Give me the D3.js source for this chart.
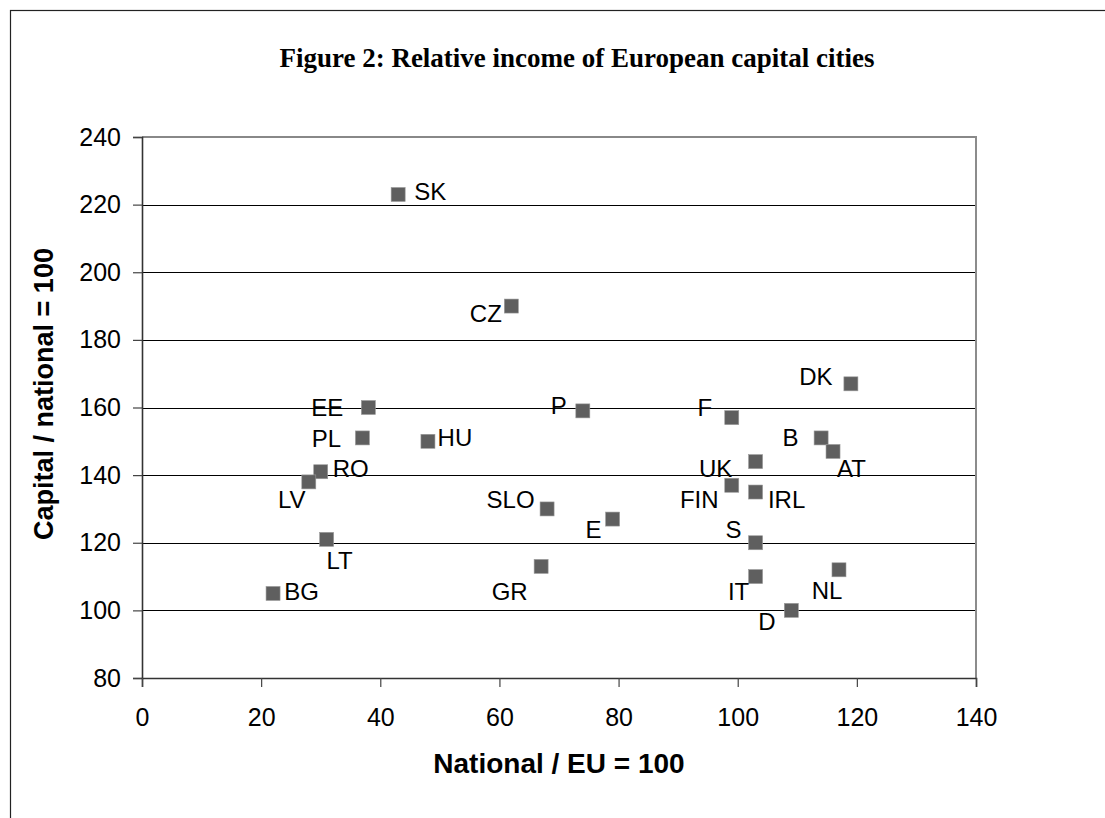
<!DOCTYPE html>
<html>
<head>
<meta charset="utf-8">
<script src="https://cdn.jsdelivr.net/npm/d3@7"></script>
<style>
  body { margin: 0; background: #fff; }
  svg { display: block; }
</style>
</head>
<body>
<script>
// country codes and their values
const codes = ["SK", "CZ", "EE", "PL", "HU", "RO", "LV", "LT", "BG", "SLO", "GR", "P",
               "E", "F", "DK", "B", "AT", "UK", "FIN", "IRL", "S", "IT", "NL", "D"];
const nationalEU = [43, 62, 38, 37, 48, 30, 28, 31, 22, 68, 67, 74,
                    79, 99, 119, 114, 116, 103, 99, 103, 103, 103, 117, 109];
const capitalNational = [223, 190, 160, 151, 150, 141, 138, 121, 105, 130, 113, 159,
                         127, 157, 167, 151, 147, 144, 137, 135, 120, 110, 112, 100];
const xTicks = [0, 20, 40, 60, 80, 100, 120, 140];
const yTicks = [80, 100, 120, 140, 160, 180, 200, 220, 240];

// where each label sits relative to its marker (px, label centre)
const labelOffset = {
  SK: [32, -3], CZ: [-25.5, 7.5], EE: [-41, 0], PL: [-36, 0], HU: [27, -4],
  RO: [30, -3], LV: [-17, 17.5], LT: [13, 21], BG: [28.5, -2.5], SLO: [-36.5, -9.5],
  GR: [-31.5, 24.5], P: [-24, -5], E: [-19, 10], F: [-27, -10.5], DK: [-35, -7],
  B: [-30.5, -1], AT: [18.5, 16.5], UK: [-40, 6.5], FIN: [-32.5, 14], IRL: [31, 7],
  S: [-22, -13], IT: [-17, 14.5], NL: [-12, 21], D: [-24.5, 11]
};

const W = 1105, H = 818;
const plot = { left: 142, right: 976, top: 137, bottom: 678 };
const sans = "'Liberation Sans', Arial, sans-serif";
const serif = "'Liberation Serif', 'Times New Roman', serif";

const svg = d3.select("body").append("svg").attr("width", W).attr("height", H);

// outer frame, runs off the right and bottom of the picture
svg.append("rect")
  .attr("x", 10.5).attr("y", 10.5)
  .attr("width", 1200).attr("height", 1000)
  .attr("fill", "none").attr("stroke", "#222").attr("stroke-width", 1.2);

const x = d3.scaleLinear().domain([0, 140]).range([plot.left, plot.right]);
const y = d3.scaleLinear().domain([80, 240]).range([plot.bottom, plot.top]);

// title
svg.append("text")
  .attr("x", 577).attr("y", 67)
  .attr("text-anchor", "middle")
  .style("font-family", serif).style("font-weight", "bold").style("font-size", "27px")
  .text("Figure 2: Relative income of European capital cities");

// gridlines
svg.append("g")
  .selectAll("line")
  .data(yTicks.filter(t => t > 80 && t < 240))
  .join("line")
  .attr("x1", plot.left).attr("x2", plot.right)
  .attr("y1", d => Math.round(y(d)) + 0.5).attr("y2", d => Math.round(y(d)) + 0.5)
  .attr("stroke", "#000").attr("stroke-width", 1);

// top and right border of plot area
svg.append("line")
  .attr("x1", plot.left).attr("x2", plot.right)
  .attr("y1", plot.top).attr("y2", plot.top)
  .attr("stroke", "#888").attr("stroke-width", 2);
svg.append("line")
  .attr("x1", plot.right).attr("x2", plot.right)
  .attr("y1", plot.top - 1).attr("y2", plot.bottom)
  .attr("stroke", "#8c8c8c").attr("stroke-width", 2);

// axes
const yAxis = svg.append("g")
  .attr("transform", `translate(${plot.left},0)`)
  .call(d3.axisLeft(y).tickValues(yTicks).tickSize(9).tickPadding(12));
const xAxis = svg.append("g")
  .attr("transform", `translate(0,${plot.bottom})`)
  .call(d3.axisBottom(x).tickValues(xTicks).tickSize(9).tickPadding(21));

[yAxis, xAxis].forEach(ax => {
  ax.select(".domain").attr("stroke", "#333").attr("stroke-width", 1.6);
  ax.selectAll(".tick line").attr("stroke", "#444").attr("stroke-width", 1.2);
  ax.selectAll(".tick text")
    .attr("fill", "#000")
    .style("font-family", sans).style("font-size", "25px");
});

// axis titles
svg.append("text")
  .attr("x", 559).attr("y", 773)
  .attr("text-anchor", "middle")
  .style("font-family", sans).style("font-weight", "bold").style("font-size", "28px")
  .text("National / EU = 100");
svg.append("text")
  .attr("transform", "translate(53,394) rotate(-90)")
  .attr("text-anchor", "middle")
  .style("font-family", sans).style("font-weight", "bold").style("font-size", "27px")
  .text("Capital / national = 100");

// markers and labels
const pts = codes.map((c, i) => ({ code: c, x: nationalEU[i], y: capitalNational[i] }));
const size = 14;

svg.append("g")
  .selectAll("rect")
  .data(pts)
  .join("rect")
  .attr("x", d => x(d.x) - size / 2)
  .attr("y", d => y(d.y) - size / 2)
  .attr("width", size).attr("height", size)
  .attr("fill", "#5f5f5f")
  .attr("stroke", "#9a9a9a").attr("stroke-width", 0.6);

const fs = 24;
svg.append("g")
  .selectAll("text")
  .data(pts)
  .join("text")
  .attr("x", d => x(d.x) + labelOffset[d.code][0])
  .attr("y", d => y(d.y) + labelOffset[d.code][1] + fs * 0.358)
  .attr("text-anchor", "middle")
  .style("font-family", sans).style("font-size", fs + "px")
  .text(d => d.code);
</script>
</body>
</html>
